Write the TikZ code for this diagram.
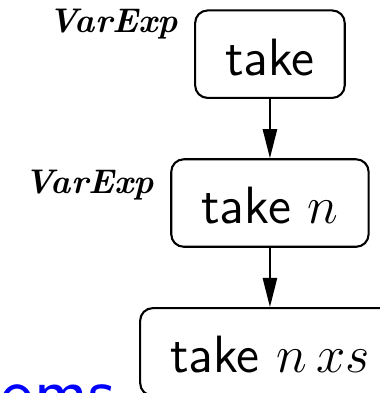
\RequirePackage{fix-cm}
\documentclass[tikz,border=0pt]{standalone}
\usepackage{amsmath}
\usetikzlibrary{arrows.meta, positioning}
\tikzset{
  term/.style={draw, rounded corners=3pt, line width=0.5pt, align=center,
               font=\sffamily\fontsize{12.6}{15}\selectfont,
               text height=10pt, text depth=0pt,
               inner xsep=7.2pt, inner ysep=5.5pt},
  flow/.style={-{Triangle[length=7pt, width=3.4pt]}, line width=0.5pt},
  kind/.style={font=\rmfamily\bfseries\itshape\fontsize{8.2}{10}\selectfont,
               inner sep=0pt},
}

\begin{document}
\begin{tikzpicture}[x=1cm, y=1cm, node distance=0.5cm]
  \useasboundingbox (0,0) rectangle (3.205,-3.315);
  \clip (0,0) rectangle (3.205,-3.315);
  % partial applications, one argument at a time
  \node[term] (take) at (2.277,-0.457) {take};
  \node[term, below=of take] (taken) {take $n$};
  \node[term, below=of taken] (takenxs) {take $n\,xs$};
  \draw[flow] (take) -- (taken);
  \draw[flow] (taken) -- (takenxs);
  % type tags
  \node[kind, anchor=base east] (tagtake)
    at ([shift={(-3.8pt,-5.5pt)}]take.north west) {VarExp};
  \node[kind, anchor=base east] (tagtaken)
    at ([shift={(-3.8pt,-8.4pt)}]taken.north west) {VarExp};
  % heading below, runs off the page
  \node[anchor=base west, inner sep=0pt, text=blue,
        font=\sffamily\fontsize{17.28}{20}\selectfont] (heading)
    at (0,-3.517) {oms};
\end{tikzpicture}
\end{document}
